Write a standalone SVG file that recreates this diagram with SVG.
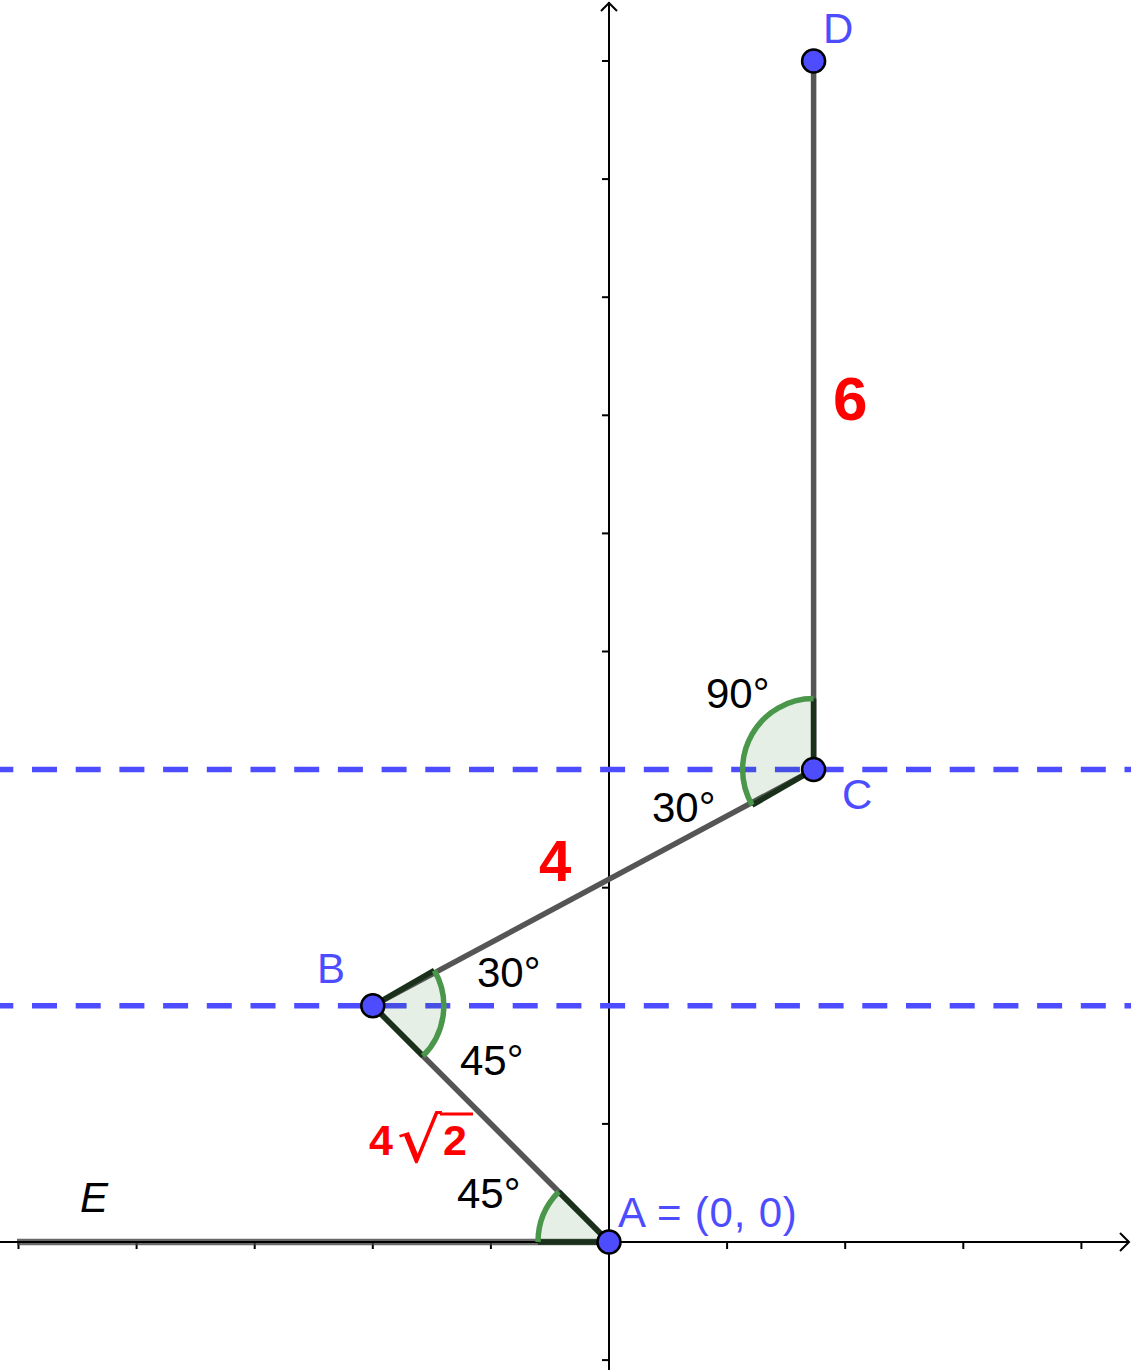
<svg xmlns="http://www.w3.org/2000/svg" width="1131" height="1370" viewBox="0 0 1131 1370">
<style>
.axis{stroke:#000;stroke-width:2;fill:none}
.tick{stroke:#000;stroke-width:2}
.dash{stroke:#4d4dff;stroke-width:5.5;stroke-dasharray:25 18.7;stroke-dashoffset:11.7;fill:none}
.seg{stroke:#555;stroke-width:5.5;fill:none;stroke-linecap:butt}
.sector{fill:#006400;fill-opacity:0.1;stroke:none}
.arc{stroke:#4a964a;stroke-width:5.5;fill:none}
.edge{stroke:#1a301a;stroke-width:5.5;fill:none}
.pt{fill:#4d4dff;stroke:#000;stroke-width:2.5}
.plab{font-family:"Liberation Sans",Arial,sans-serif;font-size:42px;fill:#4d4dff}
.alab{font-family:"Liberation Sans",Arial,sans-serif;font-size:42px;fill:#000}
.red{font-family:"Liberation Sans",Arial,sans-serif;font-weight:bold;fill:#ff0000}
</style>
<rect width="1131" height="1370" fill="#fff"/>
<g id="axes">
<line class="axis" x1="609" y1="2" x2="609" y2="1370"/>
<polyline class="axis" points="601,11 609,3 617,11"/>
<line class="axis" x1="0" y1="1242" x2="1129" y2="1242"/>
<polyline class="axis" points="1120,1233 1129,1242 1120,1251"/>
<g class="tick">
<line x1="602" y1="61" x2="609" y2="61"/>
<line x1="602" y1="179.1" x2="609" y2="179.1"/>
<line x1="602" y1="297.2" x2="609" y2="297.2"/>
<line x1="602" y1="415.3" x2="609" y2="415.3"/>
<line x1="602" y1="533.4" x2="609" y2="533.4"/>
<line x1="602" y1="651.5" x2="609" y2="651.5"/>
<line x1="602" y1="769.6" x2="609" y2="769.6"/>
<line x1="602" y1="887.7" x2="609" y2="887.7"/>
<line x1="602" y1="1005.8" x2="609" y2="1005.8"/>
<line x1="602" y1="1123.9" x2="609" y2="1123.9"/>
<line x1="602" y1="1360.1" x2="609" y2="1360.1"/>
<line x1="18.5" y1="1242" x2="18.5" y2="1249"/>
<line x1="136.6" y1="1242" x2="136.6" y2="1249"/>
<line x1="254.7" y1="1242" x2="254.7" y2="1249"/>
<line x1="372.8" y1="1242" x2="372.8" y2="1249"/>
<line x1="490.9" y1="1242" x2="490.9" y2="1249"/>
<line x1="727.1" y1="1242" x2="727.1" y2="1249"/>
<line x1="845.2" y1="1242" x2="845.2" y2="1249"/>
<line x1="963.3" y1="1242" x2="963.3" y2="1249"/>
<line x1="1081.4" y1="1242" x2="1081.4" y2="1249"/>
</g>
</g>
<g id="connectors">
<line id="E" x1="17" y1="1242" x2="609" y2="1242" stroke="#444" stroke-width="6.5" stroke-opacity="0.8"/>
<line class="axis" x1="0" y1="1242" x2="609" y2="1242"/>
<line class="dash" x1="0" y1="769.6" x2="1131" y2="769.6"/>
<line class="dash" x1="0" y1="1005.8" x2="1131" y2="1005.8"/>
<line class="seg" x1="609" y1="1242" x2="372.8" y2="1005.8"/>
<line class="seg" x1="372.8" y1="1005.8" x2="813.6" y2="769.6"/>
<line class="seg" x1="813.6" y1="769.6" x2="813.6" y2="61"/>
</g>
<g id="angleA">
<path class="sector" d="M609,1242 L538,1242 A71,71 0 0 1 558.8,1191.8 Z"/>
<path class="edge" d="M538,1242 L609,1242 L558.8,1191.8"/>
<path class="arc" d="M538,1242 A71,71 0 0 1 558.8,1191.8"/>
</g>
<g id="angleB">
<path class="sector" d="M372.8,1005.8 L434.3,970.3 A71,71 0 0 1 423,1056 Z"/>
<path class="edge" d="M434.3,970.3 L372.8,1005.8 L423,1056"/>
<path class="arc" d="M434.3,970.3 A71,71 0 0 1 423,1056"/>
</g>
<g id="angleC">
<path class="sector" d="M813.6,769.6 L813.6,698.6 A71,71 0 0 0 752.1,805.1 Z"/>
<path class="edge" d="M813.6,698.6 L813.6,769.6 L752.1,805.1"/>
<path class="arc" d="M813.6,698.6 A71,71 0 0 0 752.1,805.1"/>
</g>
<g id="pointA"><circle class="pt" cx="609" cy="1242" r="11.5"/><text class="plab" x="618" y="1227" letter-spacing="0.8">A = (0, 0)</text></g>
<g id="pointB"><circle class="pt" cx="372.8" cy="1005.8" r="11.5"/><text class="plab" x="317" y="983">B</text></g>
<g id="pointC"><circle class="pt" cx="813.6" cy="769.6" r="11.5"/><text class="plab" x="842" y="809">C</text></g>
<g id="pointD"><circle class="pt" cx="813.6" cy="61" r="11.5"/><text class="plab" x="823" y="43">D</text></g>
<g id="labelE"><text x="80" y="1212" font-family="Liberation Sans, Arial, sans-serif" font-size="42" font-style="italic" fill="#000">E</text></g>
<g id="angleLabels">
<text class="alab" x="706" y="708">90°</text>
<text class="alab" x="652" y="822">30°</text>
<text class="alab" x="477" y="987">30°</text>
<text class="alab" x="460" y="1075">45°</text>
<text class="alab" x="457" y="1208">45°</text>
</g>
<g id="lengthLabels">
<text class="red" x="833" y="420" font-size="62">6</text>
<text class="red" x="539" y="881" font-size="58">4</text>
<text class="red" x="369" y="1155" font-size="43">4</text>
<text transform="translate(397,1162) scale(1.12,1)" x="0" y="0" font-family="DejaVu Sans, sans-serif" font-size="63" fill="#ff0000">√</text>
<line x1="440" y1="1114" x2="473" y2="1114" stroke="#ff0000" stroke-width="3"/>
<text class="red" x="443" y="1155" font-size="43">2</text>
</g>
</svg>
